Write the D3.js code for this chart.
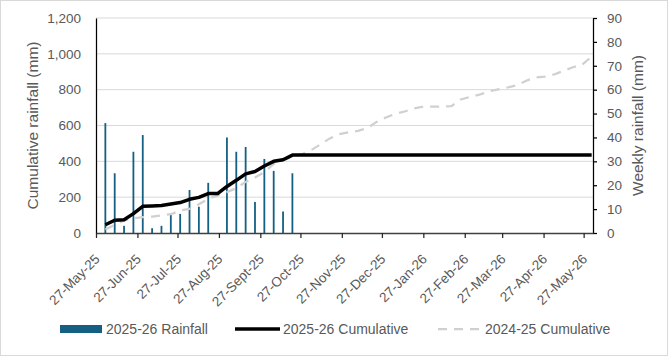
<!DOCTYPE html>
<html>
<head>
<meta charset="utf-8">
<script src="https://cdn.jsdelivr.net/npm/d3@7"></script>
<style>
  html, body { margin: 0; padding: 0; background: #fff; }
  svg { display: block; font-family: "Liberation Sans", Arial, sans-serif; }
</style>
</head>
<body>
<svg id="chart" width="668" height="356"></svg>
<script>
// ---- data ----
const weekDates = [
  "2025-06-03","2025-06-10","2025-06-17","2025-06-24","2025-07-01","2025-07-08","2025-07-15","2025-07-22",
  "2025-07-29","2025-08-05","2025-08-12","2025-08-19","2025-08-26","2025-09-02","2025-09-09","2025-09-16",
  "2025-09-23","2025-09-30","2025-10-07","2025-10-14","2025-10-21","2025-10-28","2025-11-04","2025-11-11",
  "2025-11-18","2025-11-25","2025-12-02","2025-12-09","2025-12-16","2025-12-23","2025-12-30","2026-01-06",
  "2026-01-13","2026-01-20","2026-01-27","2026-02-03","2026-02-10","2026-02-17","2026-02-24","2026-03-03",
  "2026-03-10","2026-03-17","2026-03-24","2026-03-31","2026-04-07","2026-04-14","2026-04-21","2026-04-28",
  "2026-05-05","2026-05-12","2026-05-19","2026-05-26","2026-06-02"
];
// weekly rainfall 2025-26 (mm), right axis
const rain2526 = [46, 25, 3, 34, 41, 2, 3, 8, 8, 18, 11, 21, 0, 40, 34, 36, 13, 31, 26, 9, 25];
// cumulative 2025-26 (mm), left axis
const cum2526 = [46, 71, 74, 108, 149, 151, 154, 162, 170, 188, 199, 220, 220, 260, 294, 330, 343, 374, 400, 409, 435,
  435, 435, 435, 435, 435, 435, 435, 435, 435, 435, 435, 435, 435, 435, 435, 435, 435, 435, 435, 435, 435, 435, 435,
  435, 435, 435, 435, 435, 435, 435, 435, 435];
// cumulative 2024-25 (mm), left axis
const cum2425 = [20, 45, 70, 82, 88, 92, 98, 105, 125, 135, 160, 190, 210, 228, 250, 285, 310, 340, 385, 405,
  425, 440, 462, 495, 528, 552, 562, 570, 585, 620, 645, 665, 678, 695, 705, 705, 705, 708, 745, 760,
  772, 790, 802, 812, 825, 850, 868, 873, 885, 905, 925, 940, 985];
const tickDates = ["2025-05-27","2025-06-27","2025-07-27","2025-08-27","2025-09-27","2025-10-27","2025-11-27",
  "2025-12-27","2026-01-27","2026-02-27","2026-03-27","2026-04-27","2026-05-27"];
const tickLabels = ["27-May-25","27-Jun-25","27-Jul-25","27-Aug-25","27-Sept-25","27-Oct-25","27-Nov-25",
  "27-Dec-25","27-Jan-26","27-Feb-26","27-Mar-26","27-Apr-26","27-May-26"];
const leftTicks = [0, 200, 400, 600, 800, 1000, 1200];
const rightTicks = [0, 10, 20, 30, 40, 50, 60, 70, 80, 90];
const seriesNames = ["2025-26 Rainfall", "2025-26 Cumulative", "2024-25 Cumulative"];

// ---- layout ----
const W = 668, H = 356;
const m = { left: 96, right: 75, top: 18, bottom: 123 };
const svg = d3.select("#chart");
const parse = d3.utcParse("%Y-%m-%d");
const dates = weekDates.map(parse);

const x = d3.scaleUtc()
  .domain([parse("2025-05-27"), parse("2026-06-03")])
  .range([m.left, W - m.right]);
const yL = d3.scaleLinear().domain([0, 1200]).range([H - m.bottom, m.top]);
const yR = d3.scaleLinear().domain([0, 90]).range([H - m.bottom, m.top]);

const textCol = "#595959";

// outer border
svg.append("rect").attr("x", 0.5).attr("y", 0.5).attr("width", W - 1).attr("height", H - 1)
  .attr("fill", "#fff").attr("stroke", "#d9d9d9");

// gridlines
svg.append("g").selectAll("line").data(leftTicks.filter(d => d > 0)).join("line")
  .attr("x1", m.left).attr("x2", W - m.right)
  .attr("y1", d => yL(d)).attr("y2", d => yL(d))
  .attr("stroke", "#d9d9d9").attr("stroke-width", 1);

// bars
svg.append("g").selectAll("rect").data(rain2526).join("rect")
  .attr("x", (d, i) => x(dates[i]) - 0.9)
  .attr("width", 1.8)
  .attr("y", d => yR(d))
  .attr("height", d => yR(0) - yR(d))
  .attr("fill", "#156082");

// lines
const line = d3.line().x((d, i) => x(dates[i])).y(d => yL(d));
svg.append("path").datum(cum2425).attr("d", line)
  .attr("fill", "none").attr("stroke", "#d0d0d0").attr("stroke-width", 2.25)
  .attr("stroke-dasharray", "9,7");
svg.append("path").datum(cum2526).attr("d", line)
  .attr("fill", "none").attr("stroke", "#000").attr("stroke-width", 3.5)
  .attr("stroke-linejoin", "round");

// left axis
const gL = svg.append("g").attr("transform", `translate(${m.left},0)`)
  .call(d3.axisLeft(yL).tickValues(leftTicks).tickSize(0).tickPadding(15).tickFormat(d3.format(",")));
gL.select(".domain").attr("stroke", "#000").attr("stroke-width", 1.25);
gL.selectAll("text").attr("fill", textCol).style("font-size", "13.5px").style("font-family", "Liberation Sans, Arial, sans-serif");

// right axis
const gR = svg.append("g").attr("transform", `translate(${W - m.right},0)`)
  .call(d3.axisRight(yR).tickValues(rightTicks).tickSizeOuter(0).tickSizeInner(4).tickPadding(10));
gR.select(".domain").attr("stroke", "#000").attr("stroke-width", 1.25);
gR.selectAll(".tick line").attr("stroke", "#000").attr("stroke-width", 1.25);
gR.selectAll("text").attr("fill", textCol).style("font-size", "13.5px").style("font-family", "Liberation Sans, Arial, sans-serif");

// bottom axis
const tickMap = new Map(tickDates.map((d, i) => [+parse(d), tickLabels[i]]));
const gB = svg.append("g").attr("transform", `translate(0,${H - m.bottom})`)
  .call(d3.axisBottom(x).tickValues(tickDates.map(parse)).tickSizeOuter(0).tickSizeInner(5)
    .tickFormat(d => tickMap.get(+d)));
gB.select(".domain").attr("stroke", "#404040").attr("stroke-width", 1.5);
gB.selectAll(".tick line").attr("stroke", "#262626").attr("stroke-width", 1.25);
gB.selectAll("text")
  .attr("fill", textCol).style("font-size", "13.5px").style("font-family", "Liberation Sans, Arial, sans-serif")
  .attr("text-anchor", "end")
  .attr("dy", 0).attr("y", 0)
  .attr("transform", "translate(4,27) rotate(-45)");

// axis titles
svg.append("text")
  .attr("transform", `translate(38,${(m.top + H - m.bottom) / 2}) rotate(-90)`)
  .attr("text-anchor", "middle").attr("fill", textCol)
  .style("font-size", "15.5px").text("Cumulative rainfall (mm)");
svg.append("text")
  .attr("transform", `translate(643,${(m.top + H - m.bottom) / 2}) rotate(-90)`)
  .attr("text-anchor", "middle").attr("fill", textCol)
  .style("font-size", "15.5px").text("Weekly rainfall (mm)");

// legend
const ly = 329;
const lg = svg.append("g");
lg.append("rect").attr("x", 60).attr("y", ly - 4).attr("width", 42).attr("height", 8).attr("fill", "#156082");
lg.append("text").attr("x", 106).attr("y", ly).attr("dy", "0.35em").attr("fill", textCol)
  .style("font-size", "14px").text(seriesNames[0]);
lg.append("line").attr("x1", 235).attr("x2", 280).attr("y1", ly).attr("y2", ly)
  .attr("stroke", "#000").attr("stroke-width", 3.5);
lg.append("text").attr("x", 283).attr("y", ly).attr("dy", "0.35em").attr("fill", textCol)
  .style("font-size", "14px").text(seriesNames[1]);
lg.append("line").attr("x1", 438).attr("x2", 481).attr("y1", ly).attr("y2", ly)
  .attr("stroke", "#d0d0d0").attr("stroke-width", 2.25).attr("stroke-dasharray", "9,7");
lg.append("text").attr("x", 485).attr("y", ly).attr("dy", "0.35em").attr("fill", textCol)
  .style("font-size", "14px").text(seriesNames[2]);
</script>
</body>
</html>
